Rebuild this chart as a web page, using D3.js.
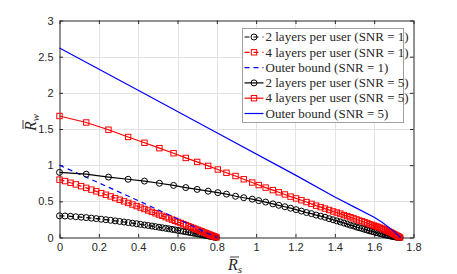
<!DOCTYPE html>
<html>
<head>
<meta charset="utf-8">
<script src="https://cdn.jsdelivr.net/npm/d3@7"></script>
<style>
  body { margin: 0; background: #fff; }
  svg { display: block; }
  .tick text { font-family: "Liberation Sans", Arial, sans-serif; font-size: 11px; fill: #262626; }
</style>
</head>
<body>
<div id="chart"></div>
<script>
// ---- data ----
var xTicks = [0, 0.2, 0.4, 0.6, 0.8, 1, 1.2, 1.4, 1.6, 1.8];
var yTicks = [0, 0.5, 1, 1.5, 2, 2.5, 3];

// R_s sample points of the SNR = 1 curves
var rsSnr1 = [0, 0.028, 0.056, 0.083, 0.11, 0.136, 0.162, 0.187, 0.212, 0.236, 0.26, 0.283, 0.306, 0.328,
  0.35, 0.371, 0.392, 0.412, 0.432, 0.451, 0.47, 0.488, 0.506, 0.523, 0.54, 0.556, 0.572, 0.587, 0.602,
  0.616, 0.63, 0.643, 0.656, 0.668, 0.68, 0.691, 0.702, 0.712, 0.722, 0.731, 0.74, 0.749, 0.757, 0.765,
  0.772, 0.779, 0.786, 0.792, 0.798];
var rw2LayerSnr1 = [0.300, 0.297, 0.293, 0.287, 0.281, 0.275, 0.268, 0.261, 0.253, 0.246, 0.238, 0.230,
  0.222, 0.214, 0.206, 0.198, 0.190, 0.182, 0.173, 0.166, 0.158, 0.150, 0.142, 0.134, 0.127, 0.120, 0.113,
  0.106, 0.098, 0.092, 0.085, 0.079, 0.073, 0.067, 0.061, 0.056, 0.050, 0.045, 0.040, 0.035, 0.031, 0.026,
  0.022, 0.018, 0.015, 0.011, 0.007, 0.004, 0.001];
var rw4LayerSnr1 = [0.800, 0.780, 0.757, 0.734, 0.710, 0.686, 0.662, 0.638, 0.614, 0.591, 0.568, 0.545,
  0.522, 0.500, 0.478, 0.456, 0.435, 0.414, 0.394, 0.374, 0.354, 0.335, 0.317, 0.299, 0.281, 0.264, 0.247,
  0.231, 0.215, 0.200, 0.185, 0.171, 0.157, 0.144, 0.131, 0.119, 0.107, 0.096, 0.086, 0.075, 0.066, 0.056,
  0.047, 0.038, 0.031, 0.023, 0.015, 0.009, 0.002];
var rsBoundSnr1 = [0, 0.2, 0.4, 0.6, 0.65, 0.7, 0.75, 0.8];
var rwBoundSnr1 = [1.0, 0.755, 0.51, 0.26, 0.195, 0.128, 0.062, 0];

// R_s sample points of the SNR = 5 curves
var rsSnr5 = [0, 0.136, 0.249, 0.349, 0.432, 0.508, 0.580, 0.642, 0.700, 0.756, 0.805, 0.849, 0.895, 0.937,
  0.980, 1.013, 1.048, 1.085, 1.115, 1.146, 1.175, 1.203, 1.230, 1.256, 1.281, 1.305, 1.328, 1.350, 1.371,
  1.391, 1.410, 1.428, 1.446, 1.463, 1.479, 1.495, 1.510, 1.524, 1.538, 1.551, 1.564, 1.576, 1.588, 1.599,
  1.610, 1.620, 1.630, 1.639, 1.648, 1.657, 1.665, 1.673, 1.681, 1.688, 1.695, 1.702, 1.708, 1.714, 1.720,
  1.725, 1.732];
var rw2LayerSnr5 = [0.90, 0.875, 0.835, 0.805, 0.78, 0.75, 0.72, 0.69, 0.665, 0.64, 0.62, 0.60, 0.57, 0.55,
  0.53, 0.51, 0.49, 0.465, 0.445, 0.425, 0.405, 0.385, 0.365, 0.345, 0.33, 0.31, 0.295, 0.28, 0.26, 0.245,
  0.23, 0.215, 0.2, 0.185, 0.17, 0.16, 0.145, 0.135, 0.125, 0.113, 0.103, 0.093, 0.085, 0.077, 0.069, 0.062,
  0.055, 0.049, 0.043, 0.037, 0.032, 0.027, 0.022, 0.018, 0.014, 0.011, 0.008, 0.005, 0.003, 0.001, 0];
var rw4LayerSnr5 = [1.68, 1.59, 1.49, 1.39, 1.31, 1.235, 1.165, 1.10, 1.045, 0.99, 0.94, 0.895, 0.85, 0.805,
  0.76, 0.725, 0.69, 0.655, 0.625, 0.595, 0.565, 0.54, 0.515, 0.49, 0.465, 0.44, 0.42, 0.40, 0.38, 0.36,
  0.345, 0.33, 0.31, 0.295, 0.28, 0.265, 0.25, 0.235, 0.225, 0.21, 0.2, 0.185, 0.175, 0.165, 0.155, 0.145,
  0.135, 0.125, 0.115, 0.105, 0.095, 0.085, 0.075, 0.065, 0.055, 0.045, 0.035, 0.027, 0.018, 0.01, 0];
var rsBoundSnr5 = [0, 0.4, 0.8, 1.2, 1.4, 1.5, 1.6, 1.64, 1.68, 1.71, 1.734];
var rwBoundSnr5 = [2.62, 2.035, 1.448, 0.862, 0.56, 0.42, 0.28, 0.21, 0.13, 0.06, 0];

var legendLabels = ["2 layers per user (SNR = 1)", "4 layers per user (SNR = 1)", "Outer bound (SNR = 1)",
  "2 layers per user (SNR = 5)", "4 layers per user (SNR = 5)", "Outer bound (SNR = 5)"];

function zip(xs, ys) {
  return xs.map(function (x, i) { return [x, ys[i]]; });
}

var series = [
  { pts: zip(rsSnr1, rw2LayerSnr1), color: "#000", dash: "5,4", marker: "circle" },
  { pts: zip(rsSnr1, rw4LayerSnr1), color: "#ff0000", dash: "5,4", marker: "square" },
  { pts: zip(rsBoundSnr1, rwBoundSnr1), color: "#0000ff", dash: "5,4", marker: null },
  { pts: zip(rsSnr5, rw2LayerSnr5), color: "#000", dash: null, marker: "circle" },
  { pts: zip(rsSnr5, rw4LayerSnr5), color: "#ff0000", dash: null, marker: "square" },
  { pts: zip(rsBoundSnr5, rwBoundSnr5), color: "#0000ff", dash: null, marker: null }
];

// ---- layout ----
var W = 457, H = 274;
var plotL = 59.5, plotR = 413.5, plotT = 20.5, plotB = 237.5;

var x = d3.scaleLinear().domain([0, 1.8]).range([plotL, plotR]);
var y = d3.scaleLinear().domain([0, 3]).range([plotB, plotT]);

var svg = d3.select("#chart").append("svg")
  .attr("width", W).attr("height", H);

// grid
svg.append("g").selectAll("line").data(xTicks.slice(1, -1)).enter().append("line")
  .attr("x1", function (d) { return Math.round(x(d)) + 0.5; })
  .attr("x2", function (d) { return Math.round(x(d)) + 0.5; })
  .attr("y1", plotT).attr("y2", plotB)
  .style("stroke", "#e3e3e3").style("stroke-width", 1);
svg.append("g").selectAll("line").data(yTicks.slice(1, -1)).enter().append("line")
  .attr("y1", function (d) { return Math.round(y(d)) + 0.5; })
  .attr("y2", function (d) { return Math.round(y(d)) + 0.5; })
  .attr("x1", plotL).attr("x2", plotR)
  .style("stroke", "#e3e3e3").style("stroke-width", 1);

// axes (ticks inward, box on all sides)
var fmt = function (d) { return String(d); };
var axB = svg.append("g").attr("transform", "translate(0," + plotB + ")")
  .call(d3.axisBottom(x).tickValues(xTicks).tickFormat(fmt).tickSizeInner(-3.5).tickSizeOuter(0).tickPadding(6));
var axL = svg.append("g").attr("transform", "translate(" + plotL + ",0)")
  .call(d3.axisLeft(y).tickValues(yTicks).tickFormat(fmt).tickSizeInner(-3.5).tickSizeOuter(0).tickPadding(6));
var axT = svg.append("g").attr("transform", "translate(0," + plotT + ")")
  .call(d3.axisTop(x).tickValues(xTicks).tickFormat("").tickSizeInner(-3.5).tickSizeOuter(0));
var axR = svg.append("g").attr("transform", "translate(" + plotR + ",0)")
  .call(d3.axisRight(y).tickValues(yTicks).tickFormat("").tickSizeInner(-3.5).tickSizeOuter(0));
[axB, axL, axT, axR].forEach(function (a) {
  a.selectAll("path, line").style("stroke", "#262626");
});

// curves
var line = d3.line().x(function (d) { return x(d[0]); }).y(function (d) { return y(d[1]); });
var plot = svg.append("g");

function drawMarkers(g, pts, s) {
  if (s.marker === "circle") {
    g.selectAll("circle").data(pts).enter().append("circle")
      .attr("cx", function (d) { return x(d[0]); })
      .attr("cy", function (d) { return y(d[1]); })
      .attr("r", 3)
      .style("fill", "none").style("stroke", s.color).style("stroke-width", 1);
  } else if (s.marker === "square") {
    g.selectAll("rect").data(pts).enter().append("rect")
      .attr("x", function (d) { return x(d[0]) - 2.7; })
      .attr("y", function (d) { return y(d[1]) - 2.7; })
      .attr("width", 5.4).attr("height", 5.4)
      .style("fill", "none").style("stroke", s.color).style("stroke-width", 1);
  }
}

series.forEach(function (s) {
  var g = plot.append("g");
  g.append("path").datum(s.pts).attr("d", line)
    .style("fill", "none").style("stroke", s.color).style("stroke-width", 1.2)
    .style("stroke-dasharray", s.dash);
  drawMarkers(g, s.pts, s);
});

// legend
var lgX = 242.5, lgY = 28.5, lgW = 161, lgH = 94, rowH = 15.3;
var lg = svg.append("g");
lg.append("rect").attr("x", lgX).attr("y", lgY).attr("width", lgW).attr("height", lgH)
  .style("fill", "#fff").style("stroke", "#a0a0a0").style("stroke-width", 1);

series.forEach(function (s, i) {
  var cy = lgY + 8.5 + i * rowH;
  var g = lg.append("g");
  g.append("line").attr("x1", lgX + 2).attr("x2", lgX + 21).attr("y1", cy).attr("y2", cy)
    .style("stroke", s.color).style("stroke-width", 1.2).style("stroke-dasharray", s.dash);
  var mx = x.invert(lgX + 11.5), my = y.invert(cy);
  drawMarkers(g, [[mx, my]], s);
  g.append("text").attr("x", lgX + 23).attr("y", cy + 4.2)
    .style("font-family", "'Liberation Serif', 'DejaVu Serif', serif")
    .style("font-size", "13px").style("fill", "#262626")
    .text(legendLabels[i]);
});

// axis labels: R with a bar and a subscript
function barLabel(g, sub) {
  var t = g.append("text")
    .style("font-family", "'Liberation Serif', serif").style("fill", "#262626");
  t.append("tspan").style("font-style", "italic").style("font-size", "16px").text("R");
  t.append("tspan").style("font-style", "italic").style("font-size", "11px").attr("dy", 3).text(sub);
  g.append("line").attr("x1", 2).attr("x2", 11).attr("y1", -13).attr("y2", -13)
    .style("stroke", "#262626").style("stroke-width", 0.9);
}
barLabel(svg.append("g").attr("transform", "translate(228,270)"), "s");
barLabel(svg.append("g").attr("transform", "translate(36,131) rotate(-90)"), "w");
</script>
</body>
</html>
